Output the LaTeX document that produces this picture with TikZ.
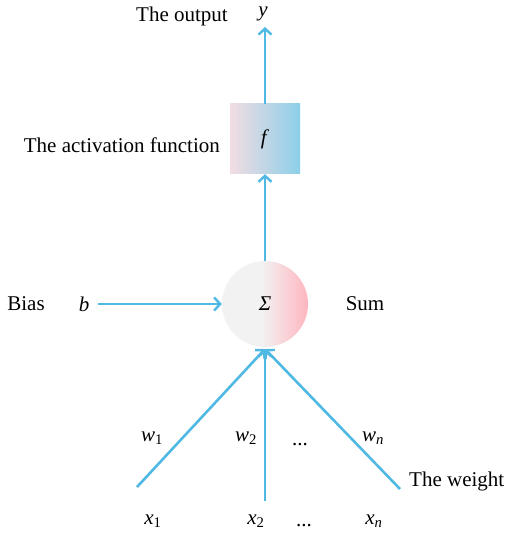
\documentclass[tikz,border=0pt]{standalone}
\usepackage{fontspec}
\setmainfont{Liberation Serif}
\usetikzlibrary{arrows.meta}
\definecolor{arr}{HTML}{4FB9E3}
\definecolor{boxl}{HTML}{F3DDE2}
\definecolor{boxr}{HTML}{8CCFEA}
\definecolor{cirl}{HTML}{F2F2F2}
\definecolor{cirr}{HTML}{FFB5BF}
\pgfdeclarehorizontalshading{sumshade}{100bp}{color(0bp)=(cirl); color(48bp)=(cirl); color(75bp)=(cirr); color(100bp)=(cirr)}
\newcommand{\vsub}[2]{\textit{#1}\textsubscript{#2}}
\tikzset{
  lbl/.style={font=\fontsize{21}{23}\selectfont, inner sep=0pt},
  conn/.style={draw=arr, line width=2.6pt, -{Straight Barb[length=6pt,width=13pt,line width=2.4pt]}},
}
\begin{document}
\begin{tikzpicture}[x=1pt,y=-1pt]
\useasboundingbox (0,0) rectangle (505,537);
% activation box
\shade[left color=boxl, right color=boxr] (230,104) rectangle (300,174);
\node (box) at (265,139) [minimum width=70pt, minimum height=70pt, inner sep=0pt] {};
\node[lbl] at (265,139) {\textit{f}};
% sum circle
\shade[shading=sumshade] (265,304) circle (43);
\node (sum) at (265,304) [circle, minimum size=86pt, inner sep=0pt] {};
\node[lbl] at (265,304) {\textit{Σ}};
% labels
\node[lbl] (out) at (263,14) {\textit{y}};
\coordinate (outtip) at (265,27);
\node[lbl, anchor=east] at (228,16) {The output};
\node[lbl, anchor=east] at (220,145) {The activation function};
\node[lbl] at (26,304) {Bias};
\node[lbl] (b) at (84,304) {\textit{b}};
\node[lbl] at (365,304) {Sum};
\node[lbl] at (152,438) {\vsub{w}{1}};
\node[lbl] at (246,438) {\vsub{w}{2}};
\node[lbl] at (300,445) {...};
\node[lbl] at (373,438) {\vsub{w}{\textit{n}}};
\node[lbl] at (153,521) {\vsub{x}{1}};
\node[lbl] at (256,521) {\vsub{x}{2}};
\node[lbl] at (304,526) {...};
\node[lbl] at (374,521) {\vsub{x}{\textit{n}}};
\node[lbl, anchor=west] at (409,481) {The weight};
% connectors
\coordinate (in1) at (137,487);
\coordinate (in2) at (265,501);
\coordinate (inn) at (400,489);
\coordinate (btail) at (98,304);
\coordinate (sbot) at (265,349);
\draw[conn] (sum.north) -- (box.south);
\draw[conn] (box.north) -- (outtip);
\draw[conn] (btail) -- (sum.west);
\draw[conn] (in1) -- (sbot);
\draw[conn] (in2) -- (sbot);
\draw[conn] (inn) -- (sbot);
\end{tikzpicture}
\end{document}
